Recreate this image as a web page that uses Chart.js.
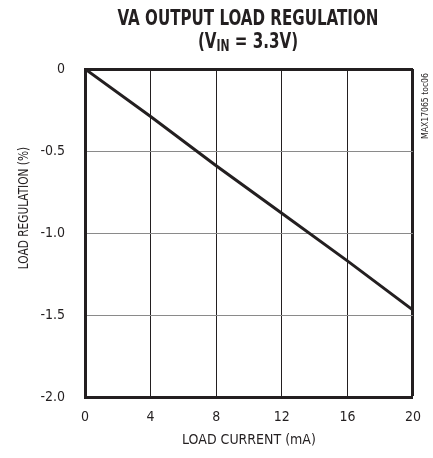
<!DOCTYPE html>
<html>
<head>
<meta charset="utf-8">
<script src="https://cdn.jsdelivr.net/npm/chart.js@4"></script>
<style>
    html, body { margin: 0; padding: 0; background: #fff; }
    #wrap { position: relative; width: 433px; height: 458px; }
</style>
</head>
<body>
<div id="wrap"><canvas id="regChart"></canvas></div>
<script>
// ==========================================
// DATA
// ==========================================

const loadCurrent = [0, 4, 8, 12, 16, 20];
const loadRegulation = [0, -0.29, -0.59, -0.88, -1.17, -1.47];
const xTicks = [0, 4, 8, 12, 16, 20];
const yTicks = [0, -0.5, -1.0, -1.5, -2.0];
const yTickLabels = ["0", "-0.5", "-1.0", "-1.5", "-2.0"];

const FONT = "'Liberation Sans Narrow', 'DejaVu Sans Condensed', 'Arial Narrow', sans-serif";
const INK = "#231f20";

// ==========================================
// TEXT PLUGIN (titles, subscript, side note)
// ==========================================

// draws text squeezed horizontally, the reference uses a condensed face
function narrowText(ctx, text, x, y, squeeze, angle) {
    ctx.save();
    ctx.translate(x, y);
    if (angle) ctx.rotate(angle);
    ctx.scale(squeeze, 1);
    ctx.fillText(text, 0, 0);
    ctx.restore();
}

const textPlugin = {
    id: "textPlugin",
    afterDraw(chart) {
        const ctx = chart.ctx;
        const cx = 248;
        const sq = 0.8;

        ctx.save();
        ctx.fillStyle = INK;
        ctx.textBaseline = "alphabetic";

        // title line 1
        ctx.font = "bold 21px " + FONT;
        ctx.textAlign = "center";
        narrowText(ctx, "VA OUTPUT LOAD REGULATION", cx, 25, sq);

        // title line 2 with subscript
        const big = "bold 21px " + FONT;
        const small = "bold 15px " + FONT;
        const parts = [["(V", big, 0], ["IN", small, 3], [" = 3.3V)", big, 0]];
        let total = 0;
        parts.forEach(p => { ctx.font = p[1]; total += ctx.measureText(p[0]).width * sq; });
        let x = cx - total / 2;
        ctx.textAlign = "left";
        parts.forEach(p => {
            ctx.font = p[1];
            narrowText(ctx, p[0], x, 48 + p[2], sq);
            x += ctx.measureText(p[0]).width * sq;
        });

        // y axis title
        ctx.font = "14px " + FONT;
        ctx.textAlign = "center";
        narrowText(ctx, "LOAD REGULATION (%)", 28, 208, 0.84, -Math.PI / 2);

        // x axis title
        narrowText(ctx, "LOAD CURRENT (mA)", 249, 444, 1.0);

        // side note
        ctx.font = "9px " + FONT;
        narrowText(ctx, "MAX17065 toc06", 428, 106, 0.95, -Math.PI / 2);
        ctx.restore();
    }
};

// ==========================================
// CHART
// ==========================================

new Chart(document.getElementById("regChart"), {
    type: "line",
    data: {
        datasets: [{
            data: loadCurrent.map((v, i) => ({ x: v, y: loadRegulation[i] })),
            borderColor: INK,
            borderWidth: 3,
            pointRadius: 0,
            tension: 0,
            fill: false,
        }]
    },
    options: {
        responsive: true,
        maintainAspectRatio: false,
        animation: false,
        layout: { padding: { top: 69, right: 17, bottom: 0, left: 0 } },
        plugins: {
            legend: { display: false },
            tooltip: { enabled: false },
        },
        scales: {
            x: {
                type: "linear",
                min: 0,
                max: 20,
                afterBuildTicks: function (scale) {
                    scale.ticks = xTicks.map(v => ({ value: v }));
                },
                afterFit: function (scale) { scale.height = 61; },
                border: { color: INK, width: 3 },
                grid: {
                    color: INK,
                    lineWidth: c => (c.tick && c.tick.value === 20 ? 3 : 1),
                    drawTicks: false,
                },
                ticks: {
                    color: INK,
                    padding: 12,
                    font: { family: FONT, size: 14 },
                },
            },
            y: {
                min: -2,
                max: 0,
                afterBuildTicks: function (scale) {
                    scale.ticks = yTicks.map(v => ({ value: v }));
                },
                afterFit: function (scale) { scale.width = 85; },
                border: { color: INK, width: 3 },
                grid: {
                    color: c => (c.tick && c.tick.value === 0 ? INK : "#8a8a8a"),
                    lineWidth: c => (c.tick && c.tick.value === 0 ? 3 : 1),
                    drawTicks: false,
                },
                ticks: {
                    color: INK,
                    padding: 20,
                    font: { family: FONT, size: 14 },
                    callback: function (value) {
                        const i = yTicks.indexOf(value);
                        return i >= 0 ? yTickLabels[i] : "";
                    },
                },
            },
        },
    },
    plugins: [textPlugin],
});
</script>
</body>
</html>
